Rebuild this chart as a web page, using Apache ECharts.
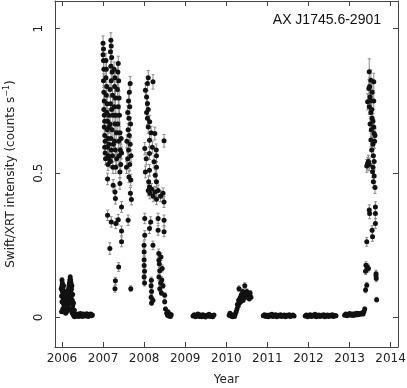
<!DOCTYPE html>
<html><head><meta charset="utf-8">
<script src="https://cdn.jsdelivr.net/npm/echarts@6/dist/echarts.min.js"></script>
<style>html,body{margin:0;padding:0;background:#fff}#c{width:407px;height:388px}</style>
</head><body><div id="c"></div>
<script>
const yearTicks = [2006, 2007, 2008, 2009, 2010, 2011, 2012, 2013, 2014];
const rateTicks = [0, 0.5, 1];
const titleText = 'AX J1745.6-2901';

// [year, rate (counts/s), 1-sigma error]
const seg2006 = [[2005.99,0.02,0.005],[2006.00,0.13,0.008],[2006.00,0.11,0.008],[2006.01,0.12,0.008],[2006.01,0.09,0.007],[2006.02,0.10,0.007],[2006.02,0.07,0.006],[2006.03,0.08,0.006],[2006.03,0.05,0.006],[2006.04,0.11,0.007],[2006.04,0.06,0.006],[2006.05,0.09,0.007],[2006.05,0.04,0.005],[2006.06,0.07,0.006],[2006.06,0.03,0.005],[2006.07,0.05,0.006],[2006.07,0.02,0.005],[2006.08,0.06,0.006],[2006.08,0.035,0.005],[2006.09,0.04,0.005],[2006.09,0.015,0.004],[2006.10,0.05,0.006],[2006.10,0.03,0.005],[2006.11,0.06,0.006],[2006.11,0.02,0.004],[2006.12,0.07,0.006],[2006.12,0.04,0.005],[2006.13,0.05,0.005],[2006.13,0.025,0.005],[2006.14,0.08,0.006],[2006.14,0.06,0.006],[2006.15,0.09,0.007],[2006.15,0.045,0.005],[2006.16,0.10,0.007],[2006.16,0.07,0.006],[2006.17,0.08,0.006],[2006.17,0.11,0.007],[2006.18,0.12,0.008],[2006.18,0.09,0.007],[2006.19,0.13,0.008],[2006.19,0.10,0.007],[2006.20,0.14,0.008],[2006.20,0.115,0.007],[2006.21,0.13,0.008],[2006.21,0.09,0.007],[2006.22,0.12,0.007],[2006.22,0.07,0.006],[2006.23,0.10,0.007],[2006.23,0.05,0.006],[2006.24,0.08,0.006],[2006.24,0.03,0.005],[2006.25,0.06,0.006],[2006.25,0.015,0.004],[2006.26,0.04,0.005],[2006.27,0.02,0.004],[2006.28,0.01,0.003],[2006.29,0.005,0.003],[2006.30,0.01,0.003],[2006.31,0.003,0.003],[2006.32,0.008,0.003],[2006.33,0.012,0.003],[2006.35,0.005,0.003],[2006.36,0.01,0.003],[2006.38,0.006,0.003],[2006.40,0.012,0.003],[2006.41,0.004,0.003],[2006.43,0.009,0.003],[2006.45,0.014,0.003],[2006.46,0.006,0.003],[2006.48,0.01,0.003],[2006.50,0.004,0.003],[2006.52,0.012,0.003],[2006.54,0.007,0.003],[2006.56,0.01,0.003],[2006.58,0.005,0.003],[2006.60,0.013,0.003],[2006.62,0.008,0.003],[2006.64,0.004,0.003],[2006.66,0.011,0.003],[2006.68,0.007,0.003],[2006.70,0.012,0.003],[2006.72,0.006,0.003],[2006.74,0.009,0.003],
[2005.98,0.10,0.007],[2005.99,0.075,0.006],[2006.00,0.055,0.006],[2006.02,0.03,0.005],[2006.04,0.02,0.004],[2006.06,0.045,0.005],[2006.08,0.08,0.006],[2006.10,0.07,0.006],[2006.12,0.09,0.007],[2006.14,0.035,0.005],[2006.16,0.025,0.005],[2006.18,0.06,0.006],[2006.20,0.08,0.006],[2006.22,0.095,0.007],[2006.24,0.11,0.007],[2006.26,0.08,0.006],[2006.28,0.05,0.005],[2006.30,0.025,0.004]];

const seg2007 = [[2007.00,0.95,0.025],[2007.01,0.93,0.025],[2007.00,0.91,0.025],[2007.01,0.89,0.025],[2007.02,0.86,0.025],[2007.01,0.82,0.024],[2007.02,0.78,0.024],[2007.03,0.75,0.023],[2007.02,0.72,0.023],[2007.03,0.70,0.023],[2007.04,0.68,0.022],[2007.03,0.66,0.022],[2007.04,0.63,0.022],[2007.05,0.61,0.022],[2007.04,0.59,0.021],[2007.05,0.57,0.021],[2007.06,0.55,0.021],
[2007.07,0.89,0.025],[2007.08,0.86,0.025],[2007.07,0.83,0.024],[2007.09,0.80,0.024],[2007.08,0.77,0.024],[2007.10,0.74,0.023],[2007.09,0.71,0.023],[2007.11,0.68,0.023],[2007.10,0.65,0.022],[2007.12,0.62,0.022],[2007.11,0.59,0.021],[2007.13,0.56,0.021],[2007.12,0.53,0.021],[2007.14,0.70,0.023],[2007.15,0.66,0.022],[2007.14,0.60,0.022],[2007.15,0.55,0.021],
[2007.19,0.96,0.026],[2007.20,0.94,0.025],[2007.18,0.92,0.025],[2007.21,0.90,0.025],[2007.19,0.87,0.025],[2007.22,0.85,0.024],[2007.20,0.82,0.024],[2007.17,0.79,0.024],[2007.23,0.77,0.024],[2007.18,0.74,0.023],[2007.21,0.72,0.023],[2007.24,0.70,0.023],[2007.17,0.67,0.022],[2007.22,0.65,0.022],[2007.19,0.62,0.022],[2007.25,0.60,0.022],[2007.20,0.58,0.021],[2007.23,0.56,0.021],[2007.18,0.54,0.021],[2007.24,0.52,0.021],
[2007.27,0.86,0.025],[2007.29,0.83,0.024],[2007.28,0.80,0.024],[2007.30,0.76,0.024],[2007.27,0.73,0.023],[2007.31,0.70,0.023],[2007.29,0.67,0.022],[2007.32,0.64,0.022],[2007.28,0.61,0.022],[2007.30,0.58,0.021],[2007.33,0.55,0.021],[2007.31,0.52,0.021],
[2007.37,0.88,0.025],[2007.36,0.85,0.025],[2007.38,0.82,0.024],[2007.35,0.79,0.024],[2007.39,0.76,0.024],[2007.37,0.73,0.023],[2007.40,0.70,0.023],[2007.36,0.67,0.022],[2007.41,0.64,0.022],[2007.38,0.61,0.022],[2007.42,0.58,0.021],[2007.39,0.56,0.021],[2007.43,0.53,0.021],[2007.44,0.62,0.022],[2007.45,0.57,0.021],
[2007.66,0.81,0.025],[2007.64,0.78,0.024],[2007.62,0.75,0.024],[2007.65,0.73,0.023],[2007.60,0.71,0.023],[2007.63,0.69,0.023],[2007.67,0.67,0.022],[2007.61,0.65,0.022],[2007.64,0.63,0.022],[2007.58,0.61,0.022],[2007.66,0.60,0.022],[2007.62,0.58,0.021],[2007.68,0.56,0.021],[2007.60,0.55,0.021],[2007.65,0.53,0.021],[2007.57,0.52,0.021],
[2007.11,0.48,0.02],[2007.245,0.458,0.02],[2007.29,0.435,0.02],[2007.30,0.412,0.019],[2007.41,0.504,0.02],[2007.41,0.464,0.02],[2007.45,0.383,0.019],[2007.63,0.487,0.02],[2007.675,0.476,0.02],[2007.665,0.43,0.02],[2007.69,0.409,0.019],[2007.11,0.354,0.018],[2007.20,0.331,0.018],[2007.31,0.326,0.018],[2007.37,0.339,0.018],[2007.45,0.30,0.017],[2007.45,0.262,0.017],[2007.61,0.337,0.018],[2007.165,0.239,0.02],[2007.38,0.175,0.015],[2007.30,0.127,0.012],[2007.29,0.10,0.012],[2007.675,0.10,0.01]];

const seg2008 = [[2008.10,0.83,0.025],[2008.08,0.81,0.025],[2008.215,0.816,0.025],[2008.03,0.787,0.024],[2008.06,0.764,0.024],[2008.08,0.741,0.023],[2008.10,0.72,0.023],[2008.06,0.71,0.023],[2008.08,0.69,0.022],[2008.135,0.678,0.022],[2008.10,0.66,0.022],[2008.26,0.637,0.022],[2008.485,0.612,0.022],[2008.015,0.585,0.021],[2008.13,0.614,0.022],[2008.13,0.568,0.021],[2008.295,0.58,0.021],[2008.30,0.56,0.021],[2008.24,0.539,0.021],[2008.03,0.504,0.02],[2008.13,0.51,0.02],[2008.30,0.52,0.02],[2008.27,0.493,0.02],[2008.30,0.47,0.02],[2008.13,0.452,0.02],[2008.11,0.47,0.02],[2008.05,0.55,0.021],[2008.17,0.64,0.022],[2008.20,0.59,0.021],
[2008.10,0.44,0.019],[2008.14,0.43,0.019],[2008.18,0.445,0.019],[2008.22,0.42,0.019],[2008.26,0.435,0.019],[2008.30,0.41,0.019],[2008.34,0.44,0.019],[2008.40,0.42,0.019],[2008.46,0.43,0.019],[2008.485,0.40,0.019],
[2008.015,0.343,0.018],[2008.16,0.331,0.018],[2008.13,0.308,0.017],[2008.34,0.343,0.018],[2008.485,0.337,0.018],[2008.34,0.302,0.017],[2008.485,0.297,0.017],[2008.015,0.285,0.016],[2007.998,0.25,0.015],[2008.215,0.25,0.015],[2008.355,0.222,0.015],[2008.00,0.227,0.014],[2008.00,0.20,0.013],[2008.00,0.18,0.012],[2008.01,0.16,0.012],[2008.00,0.14,0.011],[2008.01,0.12,0.011],[2008.36,0.198,0.013],[2008.37,0.185,0.013],[2008.38,0.162,0.012],[2008.36,0.14,0.011],[2008.40,0.12,0.011],[2008.38,0.10,0.01],[2008.42,0.085,0.009],[2008.41,0.21,0.013],[2008.44,0.17,0.012],[2008.43,0.13,0.011],[2008.46,0.11,0.01],[2008.175,0.129,0.011],[2008.17,0.11,0.01],[2008.18,0.09,0.01],[2008.17,0.07,0.009],[2008.18,0.05,0.008],[2008.50,0.077,0.009],[2008.50,0.055,0.008],[2008.215,0.06,0.008],[2008.52,0.03,0.006],[2008.55,0.015,0.005],[2008.57,0.008,0.004],[2008.58,0.02,0.005],[2008.60,0.005,0.004],[2008.62,0.012,0.004],[2008.64,0.004,0.004],[2008.66,0.01,0.004]];

const seg2009 = [[2009.19,0.005,0.004],[2009.22,0.01,0.004],[2009.25,0.003,0.003],[2009.28,0.008,0.004],[2009.31,0.012,0.004],[2009.34,0.004,0.003],[2009.37,0.009,0.004],[2009.40,0.003,0.003],[2009.43,0.01,0.004],[2009.46,0.006,0.003],[2009.49,0.002,0.003],[2009.52,0.008,0.004],[2009.55,0.005,0.003],[2009.58,0.011,0.004],[2009.61,0.004,0.003],[2009.64,0.007,0.004],[2009.67,0.003,0.003],[2009.70,0.009,0.004]];

const seg2010 = [[2010.07,0.008,0.004],[2010.09,0.015,0.004],[2010.11,0.005,0.004],[2010.13,0.01,0.004],[2010.15,0.003,0.004],[2010.18,0.008,0.004],[2010.20,0.004,0.004],[2010.22,0.012,0.004],[2010.24,0.02,0.005],[2010.26,0.03,0.006],[2010.27,0.045,0.007],[2010.29,0.04,0.006],[2010.30,0.06,0.007],[2010.31,0.10,0.01],[2010.32,0.05,0.007],[2010.34,0.07,0.008],[2010.35,0.055,0.007],[2010.37,0.08,0.008],[2010.38,0.065,0.008],[2010.40,0.09,0.009],[2010.41,0.06,0.007],[2010.43,0.075,0.008],[2010.45,0.11,0.01],[2010.46,0.085,0.009],[2010.48,0.07,0.008],[2010.50,0.09,0.009],[2010.52,0.075,0.008],[2010.54,0.08,0.008],[2010.56,0.065,0.008],[2010.58,0.085,0.008],[2010.60,0.07,0.008]];

const seg2011 = [[2010.90,0.006,0.003],[2010.93,0.01,0.004],[2010.96,0.004,0.003],[2010.99,0.008,0.004],[2011.02,0.003,0.003],[2011.05,0.009,0.004],[2011.08,0.005,0.003],[2011.11,0.011,0.004],[2011.14,0.004,0.003],[2011.17,0.007,0.003],[2011.20,0.01,0.004],[2011.23,0.003,0.003],[2011.26,0.008,0.004],[2011.29,0.005,0.003],[2011.32,0.01,0.004],[2011.35,0.004,0.003],[2011.38,0.007,0.003],[2011.41,0.009,0.004],[2011.44,0.003,0.003],[2011.47,0.008,0.004],[2011.50,0.005,0.003],[2011.53,0.01,0.004],[2011.56,0.004,0.003],[2011.59,0.007,0.003],[2011.62,0.009,0.004],[2011.65,0.005,0.003]];

const seg2012 = [[2011.92,0.005,0.003],[2011.95,0.009,0.004],[2011.98,0.003,0.003],[2012.01,0.007,0.003],[2012.04,0.01,0.004],[2012.07,0.004,0.003],[2012.10,0.008,0.004],[2012.13,0.005,0.003],[2012.16,0.011,0.004],[2012.19,0.003,0.003],[2012.22,0.007,0.003],[2012.25,0.009,0.004],[2012.28,0.004,0.003],[2012.31,0.008,0.004],[2012.34,0.005,0.003],[2012.37,0.01,0.004],[2012.40,0.003,0.003],[2012.43,0.007,0.003],[2012.46,0.009,0.004],[2012.49,0.004,0.003],[2012.52,0.008,0.004],[2012.55,0.005,0.003],[2012.58,0.01,0.004],[2012.61,0.004,0.003],[2012.64,0.007,0.003],[2012.67,0.006,0.003]];

const seg2013 = [[2012.88,0.008,0.004],[2012.91,0.012,0.004],[2012.94,0.006,0.004],[2012.97,0.01,0.004],[2013.00,0.014,0.004],[2013.03,0.008,0.004],[2013.06,0.012,0.004],[2013.09,0.007,0.004],[2013.12,0.013,0.004],[2013.15,0.009,0.004],[2013.18,0.015,0.005],[2013.21,0.01,0.004],[2013.24,0.014,0.004],[2013.27,0.011,0.004],[2013.30,0.016,0.005],[2013.33,0.012,0.004],[2013.35,0.02,0.005],[2013.37,0.03,0.006],
[2013.48,0.851,0.045],[2013.52,0.822,0.035],[2013.59,0.816,0.03],[2013.47,0.793,0.03],[2013.55,0.78,0.03],[2013.50,0.764,0.03],[2013.44,0.747,0.028],[2013.59,0.75,0.028],[2013.48,0.73,0.027],[2013.52,0.71,0.026],[2013.55,0.69,0.026],[2013.50,0.67,0.025],[2013.53,0.65,0.025],[2013.60,0.637,0.024],[2013.62,0.63,0.024],[2013.52,0.615,0.024],[2013.57,0.60,0.023],[2013.54,0.58,0.023],[2013.58,0.56,0.022],[2013.44,0.533,0.022],[2013.48,0.53,0.022],[2013.42,0.525,0.022],[2013.46,0.54,0.022],[2013.56,0.505,0.021],[2013.60,0.49,0.021],[2013.58,0.47,0.02],[2013.62,0.45,0.02],[2013.49,0.80,0.03],[2013.51,0.75,0.028],[2013.54,0.72,0.027],[2013.57,0.68,0.026],[2013.59,0.66,0.025],[2013.61,0.61,0.024],[2013.60,0.54,0.022],[2013.57,0.52,0.021],
[2013.48,0.372,0.018],[2013.49,0.36,0.018],[2013.63,0.383,0.018],[2013.63,0.36,0.018],[2013.63,0.326,0.017],[2013.55,0.302,0.016],[2013.56,0.28,0.016],[2013.42,0.262,0.015],[2013.40,0.181,0.012],[2013.43,0.175,0.012],[2013.46,0.17,0.012],[2013.39,0.16,0.011],[2013.42,0.112,0.01],[2013.39,0.095,0.009],[2013.645,0.152,0.012],[2013.645,0.145,0.012],[2013.65,0.135,0.011],[2013.66,0.062,0.008]];

const points = [].concat(seg2006, seg2007, seg2008, seg2009, seg2010, seg2011, seg2012, seg2013);

const chart = echarts.init(document.getElementById('c'), null, {renderer: 'canvas'});
const axisColor = '#444';
const labelFont = {fontFamily: 'DejaVu Sans', fontSize: 12, color: '#222'};
const xMin = 2005.83, xMax = 2014.18, yMin = -0.102, yMax = 1.096;

function frameAxis(pos, ticks) {
  return {
    type: 'value', position: pos, min: pos === 'top' ? xMin : yMin, max: pos === 'top' ? xMax : yMax,
    axisLine: {show: true, onZero: false, lineStyle: {color: axisColor, width: 1}},
    axisTick: {show: true, inside: true, length: 5, customValues: ticks, lineStyle: {color: axisColor}},
    axisLabel: {show: false}, splitLine: {show: false}
  };
}

chart.setOption({
  animation: false,
  title: {text: titleText, right: 21, top: 8,
    textStyle: {fontFamily: 'Liberation Sans', fontSize: 14, fontWeight: 'normal', color: '#111'}},
  grid: {left: 55, right: 9, top: 1, bottom: 41, containLabel: false, outerBoundsMode: 'none'},
  xAxis: [{
    type: 'value', position: 'bottom', min: xMin, max: xMax,
    axisLine: {show: true, onZero: false, lineStyle: {color: axisColor, width: 1}},
    axisTick: {show: true, inside: true, length: 5, customValues: yearTicks, lineStyle: {color: axisColor}},
    axisLabel: Object.assign({customValues: yearTicks, margin: 6, formatter: v => String(Math.round(v))}, labelFont),
    splitLine: {show: false},
    name: 'Year', nameLocation: 'middle', nameGap: 27, nameTextStyle: labelFont
  }, frameAxis('top', yearTicks)],
  yAxis: [{
    type: 'value', position: 'left', min: yMin, max: yMax,
    axisLine: {show: true, onZero: false, lineStyle: {color: axisColor, width: 1}},
    axisTick: {show: true, inside: true, length: 5, customValues: rateTicks, lineStyle: {color: axisColor}},
    axisLabel: Object.assign({customValues: rateTicks, rotate: 90, margin: 10, formatter: v => String(v)}, labelFont),
    splitLine: {show: false},
    name: 'Swift/XRT intensity (counts s{sup|−1})', nameLocation: 'middle', nameRotate: 90, nameGap: 36,
    nameTextStyle: Object.assign({rich: {sup: {fontFamily: 'DejaVu Sans', fontSize: 8, color: '#222', verticalAlign: 'top', padding: [0, 0, 8, 0]}}}, labelFont)
  }, frameAxis('right', rateTicks)],
  series: [{
    type: 'custom', xAxisIndex: 0, yAxisIndex: 0, encode: {x: 0, y: 1}, data: points, z: 1,
    renderItem: function (params, api) {
      const x = api.value(0), y = api.value(1), e = api.value(2);
      const t = api.coord([x, y + e]), b = api.coord([x, y - e]);
      const cw = 1.5, st = {stroke: '#8a8a8a', lineWidth: 1};
      return {type: 'group', children: [
        {type: 'line', shape: {x1: t[0], y1: t[1], x2: b[0], y2: b[1]}, style: st},
        {type: 'line', shape: {x1: t[0] - cw, y1: t[1], x2: t[0] + cw, y2: t[1]}, style: st},
        {type: 'line', shape: {x1: b[0] - cw, y1: b[1], x2: b[0] + cw, y2: b[1]}, style: st}
      ]};
    }
  }, {
    type: 'scatter', xAxisIndex: 0, yAxisIndex: 0, data: points, symbol: 'circle', symbolSize: 5, z: 2,
    itemStyle: {color: '#111', opacity: 1}
  }]
});
</script></body></html>
